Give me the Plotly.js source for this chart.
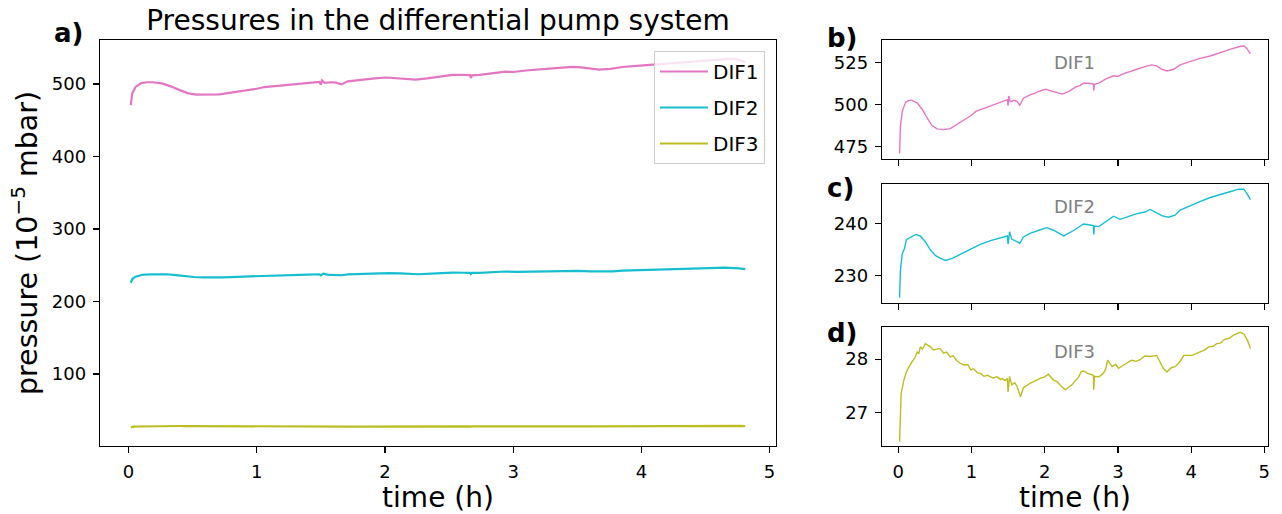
<!DOCTYPE html>
<html>
<head>
<meta charset="utf-8">
<script src="https://cdn.plot.ly/plotly-3.0.1.min.js"></script>
<style>html,body{margin:0;padding:0;background:#fff;}#chart{width:1282px;height:514px;}</style>
</head>
<body>
<div id="chart"></div>
<script>
// ---- data ----
const seriesNames = ["DIF1", "DIF2", "DIF3"];
const seriesColors = ["#e377c2", "#17becf", "#bcbd22"];
const xTicks = [0, 1, 2, 3, 4, 5];

const time1 = [0.018,0.03,0.055,0.1,0.145,0.19,0.26,0.33,0.395,0.46,0.53,0.62,0.71,0.8,0.9,1.0,1.06,1.12,1.21,1.3,1.36,1.42,1.49,1.50,1.51,1.53,1.58,1.62,1.66,1.71,1.8,1.86,1.92,2.01,2.07,2.12,2.24,2.33,2.42,2.48,2.53,2.6,2.665,2.67,2.68,2.74,2.83,2.94,3.0,3.06,3.12,3.26,3.37,3.46,3.53,3.6,3.67,3.76,3.85,3.99,4.12,4.26,4.39,4.53,4.65,4.72,4.76,4.81];
const dif1 = [470.8,487,496,501.2,502.4,502.4,500.8,496.8,491.9,487.4,485.4,485,485.6,488,490.5,493.5,495.8,496.8,498.4,499.8,500.6,501.8,502.8,499.2,505,501.5,502.4,501.8,499.5,503.7,505.7,506.5,507.7,509,508.3,507.7,506.1,507.7,510.3,511.2,512.6,512.6,512.2,508.3,512.0,512.6,515,517,516.6,518,519,520.9,522.5,523.5,522.9,520.9,519.9,520.9,523.5,525.4,527.4,528.8,530.8,532.7,534.3,534.9,533.3,530];

const time2 = [0.018,0.03,0.055,0.086,0.11,0.17,0.24,0.3,0.37,0.44,0.51,0.58,0.645,0.74,0.85,0.99,1.12,1.26,1.4,1.49,1.50,1.52,1.55,1.58,1.66,1.71,1.8,1.92,2.03,2.12,2.26,2.4,2.53,2.62,2.665,2.67,2.68,2.74,2.85,2.94,3.03,3.15,3.26,3.37,3.44,3.51,3.6,3.69,3.78,3.85,3.99,4.12,4.26,4.39,4.53,4.65,4.72,4.76,4.81];
const dif2 = [225.7,231,234.2,235.2,236.9,237.4,237.9,237.6,236.5,234.9,233.8,233.3,232.9,233.3,234.1,235.1,236,236.7,237.2,237.6,236,238.4,237,236.8,236.2,237.4,238.1,238.7,239.2,238.7,237.6,238.7,239.9,239.7,239.6,237.9,239.5,239.4,240.5,241.4,240.8,241.4,241.9,242.2,242.7,242.2,241.5,241.2,241.6,242.6,243.5,244.2,245,245.6,246.1,246.6,246.6,245.8,244.6];

const time3 = [0.018,0.04,0.077,0.11,0.16,0.21,0.23,0.26,0.28,0.3,0.33,0.37,0.40,0.44,0.48,0.53,0.57,0.62,0.66,0.71,0.75,0.8,0.85,0.9,0.95,0.99,1.03,1.08,1.13,1.17,1.22,1.26,1.3,1.35,1.4,1.42,1.46,1.49,1.50,1.52,1.55,1.59,1.62,1.67,1.71,1.75,1.8,1.85,1.9,1.95,1.99,2.05,2.12,2.17,2.21,2.28,2.33,2.37,2.42,2.46,2.5,2.53,2.58,2.62,2.665,2.67,2.68,2.74,2.79,2.83,2.86,2.92,2.97,3.01,3.06,3.1,3.15,3.19,3.25,3.3,3.37,3.45,3.53,3.57,3.62,3.67,3.73,3.78,3.82,3.86,3.9,4.01,4.06,4.12,4.18,4.24,4.3,4.35,4.4,4.46,4.52,4.58,4.67,4.72,4.77,4.81];
const dif3 = [26.46,27.36,27.61,27.76,27.89,27.99,28.04,28.14,28.1,28.23,28.19,28.29,28.26,28.23,28.17,28.18,28.2,28.11,28.13,28.04,28.06,27.97,27.92,27.89,27.9,27.8,27.82,27.75,27.73,27.68,27.7,27.67,27.65,27.67,27.62,27.64,27.6,27.64,27.39,27.68,27.52,27.56,27.5,27.3,27.47,27.5,27.55,27.58,27.62,27.65,27.66,27.72,27.61,27.58,27.52,27.43,27.48,27.52,27.6,27.66,27.77,27.78,27.74,27.72,27.7,27.43,27.68,27.67,27.72,27.8,27.98,27.86,27.9,27.83,27.88,27.91,27.95,27.98,27.96,27.99,28.06,28.05,28.07,27.95,27.83,27.76,27.84,27.86,27.91,27.98,28.07,28.07,28.1,28.14,28.17,28.23,28.24,28.29,28.3,28.37,28.39,28.45,28.5,28.47,28.35,28.2];

const mainYTicks = [100, 200, 300, 400, 500];
const bYTicks = [475, 500, 525];
const cYTicks = [230, 240];
const dYTicks = [27, 28];

// ---- chart ----
const W = 1282, H = 514;
const FONT = "DejaVu Sans, Liberation Sans, sans-serif";
const times = [time1, time2, time3];
const vals = [dif1, dif2, dif3];

const traces = [];
for (let i = 0; i < 3; i++) {
  traces.push({x: times[i], y: vals[i], type: "scatter", mode: "lines", name: seriesNames[i],
    legendgroup: "g" + i,
    line: {color: seriesColors[i], width: 2.2}, xaxis: "x", yaxis: "y", showlegend: true});
}
for (let i = 0; i < 3; i++) {
  traces.push({x: times[i], y: vals[i], type: "scatter", mode: "lines", name: seriesNames[i],
    line: {color: seriesColors[i], width: 1.4}, xaxis: "x" + (i + 2), yaxis: "y" + (i + 2), showlegend: false});
}

function px(x) { return x / W; }
function py(y) { return 1 - y / H; }

function axisBase(extra) {
  return Object.assign({
    showline: true, mirror: true, linecolor: "#000", linewidth: 1.2,
    ticks: "outside", ticklen: 6, tickwidth: 1.2, tickcolor: "#000",
    showgrid: false, zeroline: false, automargin: false,
    tickfont: {family: FONT, size: 18, color: "#000"}, ticklabelstandoff: 3
  }, extra);
}

const xr = [-0.222, 5.05];
const layout = {
  width: W, height: H,
  margin: {l: 0, r: 0, t: 0, b: 0},
  paper_bgcolor: "#fff", plot_bgcolor: "#fff",
  font: {family: FONT, color: "#000"},
  title: {text: "Pressures in the differential pump system", font: {family: FONT, size: 28, color: "#000"},
    x: px(438), xref: "paper", xanchor: "center", y: py(20), yref: "paper", yanchor: "middle"},
  showlegend: true,
  legend: {x: px(765), y: py(51), xanchor: "right", yanchor: "top",
    bgcolor: "rgba(255,255,255,0.8)", bordercolor: "#cccccc", borderwidth: 1,
    font: {family: FONT, size: 20, color: "#000"}, tracegroupgap: 7, itemwidth: 48},
  xaxis: axisBase({domain: [px(100), px(776)], range: xr, tickvals: xTicks, anchor: "y",
    title: {text: "time (h)", font: {family: FONT, size: 28}, standoff: 6}}),
  yaxis: axisBase({domain: [py(446), py(40)], range: [0.7, 560.7], tickvals: mainYTicks, anchor: "x",
    title: {text: "pressure (10<sup>−5</sup> mbar)", font: {family: FONT, size: 28.5}, standoff: 5}}),
  xaxis2: axisBase({domain: [px(882), px(1268)], range: xr, tickvals: xTicks, showticklabels: false, anchor: "y2"}),
  yaxis2: axisBase({domain: [py(159), py(40)], range: [467.5, 538.3], tickvals: bYTicks, anchor: "x2"}),
  xaxis3: axisBase({domain: [px(882), px(1268)], range: xr, tickvals: xTicks, showticklabels: false, anchor: "y3"}),
  yaxis3: axisBase({domain: [py(303), py(184)], range: [224.7, 247.6], tickvals: cYTicks, anchor: "x3"}),
  xaxis4: axisBase({domain: [px(882), px(1268)], range: xr, tickvals: xTicks, anchor: "y4",
    title: {text: "time (h)", font: {family: FONT, size: 28}, standoff: 6}}),
  yaxis4: axisBase({domain: [py(446), py(327)], range: [26.38, 28.6], tickvals: dYTicks, anchor: "x4"}),
  annotations: [
    {text: "<b>a)</b>", x: px(52), y: py(33), xref: "paper", yref: "paper", xanchor: "left", yanchor: "middle", showarrow: false, font: {family: FONT, size: 26, color: "#000"}},
    {text: "<b>b)</b>", x: px(825), y: py(38), xref: "paper", yref: "paper", xanchor: "left", yanchor: "middle", showarrow: false, font: {family: FONT, size: 26, color: "#000"}},
    {text: "<b>c)</b>", x: px(825), y: py(188), xref: "paper", yref: "paper", xanchor: "left", yanchor: "middle", showarrow: false, font: {family: FONT, size: 26, color: "#000"}},
    {text: "<b>d)</b>", x: px(825), y: py(333), xref: "paper", yref: "paper", xanchor: "left", yanchor: "middle", showarrow: false, font: {family: FONT, size: 26, color: "#000"}},
    {text: seriesNames[0], x: px(1074), y: py(62), xref: "paper", yref: "paper", xanchor: "center", yanchor: "middle", showarrow: false, font: {family: FONT, size: 18, color: "#808080"}},
    {text: seriesNames[1], x: px(1074), y: py(206), xref: "paper", yref: "paper", xanchor: "center", yanchor: "middle", showarrow: false, font: {family: FONT, size: 18, color: "#808080"}},
    {text: seriesNames[2], x: px(1074), y: py(351), xref: "paper", yref: "paper", xanchor: "center", yanchor: "middle", showarrow: false, font: {family: FONT, size: 18, color: "#808080"}}
  ]
};

Plotly.newPlot("chart", traces, layout, {staticPlot: true, displayModeBar: false});
</script>
</body>
</html>
